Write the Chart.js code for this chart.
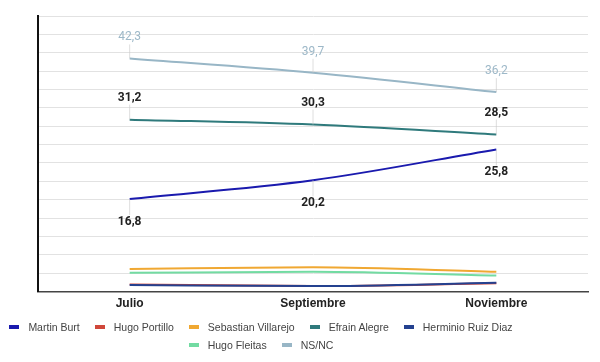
<!DOCTYPE html>
<html>
<head>
<meta charset="utf-8">
<script src="https://cdn.jsdelivr.net/npm/chart.js"></script>
<style>
  body { margin: 0; background: #fff; }
  #wrap { position: relative; width: 600px; height: 362px; overflow: hidden; }
  #legend {
    position: absolute; left: -20px; top: 320px; width: 562px;
    display: flex; flex-wrap: wrap; justify-content: center; row-gap: 4px;
    font: 10.5px Arial, "Liberation Sans", sans-serif; color: #444;
  }
  #legend .item { display: flex; align-items: center; margin: 0 7.5px; height: 14px; }
  #legend .mark { width: 10px; height: 4px; margin-right: 9px; }
</style>
</head>
<body>
<div id="wrap">
  <canvas id="chart" width="600" height="362"></canvas>
  <div id="legend"></div>
</div>
<script>
const months = ['Julio', 'Septiembre', 'Noviembre'];
const martinBurt = [16.8, 20.2, 25.8];
const hugoPortillo = [1.3, 1.0, 1.5];
const sebastianVillarejo = [4.1, 4.4, 3.6];
const efrainAlegre = [31.2, 30.3, 28.5];
const herminioRuizDiaz = [1.2, 1.0, 1.6];
const hugoFleitas = [3.4, 3.6, 2.9];
const nsnc = [42.3, 39.7, 36.2];

// which series get value labels, and where (px offset from the point)
const labelled = {
    'Martin Burt': { dy: 23, color: '#222', weight: 'bold' },
    'Efrain Alegre': { dy: -22, color: '#222', weight: 'bold' },
    'NS/NC': { dy: -21, color: '#9db8c8', weight: 'normal' }
};

const valueLabels = {
    id: 'valueLabels',
    afterDatasetsDraw(chart) {
        const ctx = chart.ctx;
        chart.data.datasets.forEach((ds, i) => {
            const cfg = labelled[ds.label];
            if (!cfg) return;
            const meta = chart.getDatasetMeta(i);
            meta.data.forEach((pt, j) => {
                const ty = pt.y + cfg.dy;
                ctx.save();
                ctx.strokeStyle = 'rgba(200,200,200,0.6)';
                ctx.lineWidth = 1;
                ctx.beginPath();
                ctx.moveTo(pt.x, cfg.dy < 0 ? ty + 7 : ty - 7);
                ctx.lineTo(pt.x, pt.y);
                ctx.stroke();
                ctx.font = cfg.weight + ' 12px Roboto, Arial, sans-serif';
                ctx.fillStyle = cfg.color;
                ctx.textAlign = 'center';
                ctx.textBaseline = 'middle';
                ctx.fillText(ds.data[j].toFixed(1).replace('.', ','), pt.x, ty);
                ctx.restore();
            });
        });
    }
};

function line(label, data, color, order) {
    return {
        label: label,
        data: data,
        borderColor: color,
        backgroundColor: color,
        borderWidth: 2,
        pointRadius: 0,
        tension: 0.4,
        cubicInterpolationMode: 'monotone',
        order: order || 0
    };
}

const chart = new Chart(document.getElementById('chart'), {
    type: 'line',
    data: {
        labels: months,
        datasets: [
            line('Martin Burt', martinBurt, '#1a1aae'),
            line('Hugo Portillo', hugoPortillo, '#d0473a', 1),
            line('Sebastian Villarejo', sebastianVillarejo, '#f0a832'),
            line('Efrain Alegre', efrainAlegre, '#2f7a7c'),
            line('Herminio Ruiz Diaz', herminioRuizDiaz, '#24418f'),
            line('Hugo Fleitas', hugoFleitas, '#72dba2'),
            line('NS/NC', nsnc, '#98b6c6')
        ]
    },
    options: {
        responsive: false,
        animation: false,
        layout: { padding: { left: 38, right: 12, top: 16, bottom: 46 } },
        scales: {
            x: {
                offset: true,
                grid: { display: false, drawTicks: false },
                border: { color: '#444', width: 1.5 },
                ticks: {
                    padding: 5,
                    color: '#222',
                    font: { family: 'Arial, Liberation Sans, sans-serif', size: 12, weight: 'bold' }
                }
            },
            y: {
                min: 0,
                max: 50,
                grid: { color: '#e2e2e2', drawTicks: false },
                border: { color: '#111', width: 2 },
                ticks: { display: false, stepSize: 50 / 15 }
            }
        },
        plugins: {
            legend: { display: false },
            tooltip: { enabled: false }
        }
    },
    plugins: [valueLabels]
});

// html legend, google-charts style
const legend = document.getElementById('legend');
chart.data.datasets.forEach(ds => {
    const item = document.createElement('div');
    item.className = 'item';
    item.innerHTML = '<span class="mark" style="background:' + ds.borderColor + '"></span>' + ds.label;
    legend.appendChild(item);
});
</script>
</body>
</html>
